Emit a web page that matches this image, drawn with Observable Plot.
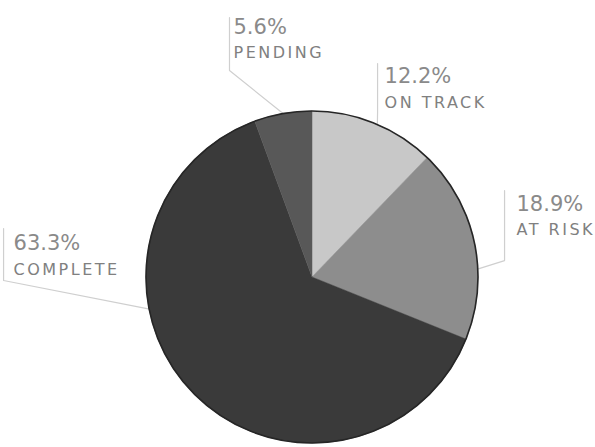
<!DOCTYPE html>
<html>
<head>
<meta charset="utf-8">
<script src="https://cdn.jsdelivr.net/npm/d3@7"></script>
<script src="https://cdn.jsdelivr.net/npm/@observablehq/plot@0.6"></script>
<style>
  html, body { margin: 0; padding: 0; background: #fff; }
  #chart { width: 595px; height: 447px; overflow: hidden; }
</style>
</head>
<body>
<div id="chart"></div>
<script>
// ---- data ----
const categories = ["ON TRACK", "AT RISK", "COMPLETE", "PENDING"];
const values = [12.2, 18.9, 63.3, 5.6];
const percentLabels = ["12.2%", "18.9%", "63.3%", "5.6%"];
const sliceColors = ["#c8c8c8", "#8d8d8d", "#3a3a3a", "#585858"];

// ---- layout (pie-radius units, relative to pie centre) ----
const labelX    = [0.434, 1.229, -1.801, -0.476];
const pctY      = [1.211, 0.440, 0.205, 1.506];
const nameY     = [1.054, 0.289, 0.048, 1.355];
const leaderX   = [0.392, 1.157, -1.861, -0.500];
const leaderTop = [1.289, 0.524, 0.295, 1.566];
const leaderBot = [0.994, 0.102, -0.018, 1.247];
const leaderAng = [23, 87, 259, -10]; // degrees clockwise from 12 o'clock

const W = 595, H = 447, cx = 312, cy = 277, R = 166;

const slices = categories.map((c, i) => ({category: c, value: values[i], color: sliceColors[i]}));
const labels = categories.map((c, i) => ({category: c, pct: percentLabels[i], x: labelX[i], py: pctY[i], ny: nameY[i]}));
const leaders = categories.flatMap((c, i) => {
  const a = leaderAng[i] * Math.PI / 180;
  return [
    {category: c, x: leaderX[i], y: leaderTop[i]},
    {category: c, x: leaderX[i], y: leaderBot[i]},
    {category: c, x: Math.sin(a), y: Math.cos(a)}
  ];
});

function pieMark(...args) {
  const scales = args.find(a => a && typeof a.x === "function" && typeof a.y === "function");
  const px = scales.x, py = scales.y;
  const x0 = px(0), y0 = py(0), r = px(1) - px(0);
  const arcs = d3.pie().sort(null).value(d => d.value)(slices);
  const arc = d3.arc().innerRadius(0).outerRadius(r);
  const g = d3.create("svg:g").attr("transform", `translate(${x0},${y0})`);
  g.selectAll("path.slice").data(arcs).join("path")
    .attr("class", "slice")
    .attr("d", arc)
    .attr("fill", d => d.data.color)
    .attr("stroke", d => d.data.color)
    .attr("stroke-width", 0.5);
  g.append("circle").attr("r", r).attr("fill", "none")
    .attr("stroke", "#262626").attr("stroke-width", 1.6);
  return g.node();
}

const chart = Plot.plot({
  width: W,
  height: H,
  margin: 0,
  x: {domain: [-1, 1], range: [cx - R, cx + R], axis: null},
  y: {domain: [-1, 1], range: [cy + R, cy - R], axis: null},
  style: {background: "#fff", fontFamily: "DejaVu Sans"},
  marks: [
    Plot.line(leaders, {x: "x", y: "y", z: "category", stroke: "#cfcfcf", strokeWidth: 1.2}),
    pieMark,
    Plot.text(labels, {x: "x", y: "py", text: "pct", textAnchor: "start", fontSize: 21, fill: "#8a8a8a", fontFamily: "DejaVu Sans"}),
    Plot.text(labels, {x: "x", y: "ny", text: "category", textAnchor: "start", fontSize: 16, fill: "#808080", fontFamily: "DejaVu Sans", letterSpacing: "2.5px"})
  ]
});
chart.querySelectorAll("text").forEach(t => {
  if (t.getAttribute("font-size") === "16" || t.closest("g")?.getAttribute("font-size") === "16") t.style.letterSpacing = "2.5px";
});
document.getElementById("chart").appendChild(chart);
</script>
</body>
</html>
